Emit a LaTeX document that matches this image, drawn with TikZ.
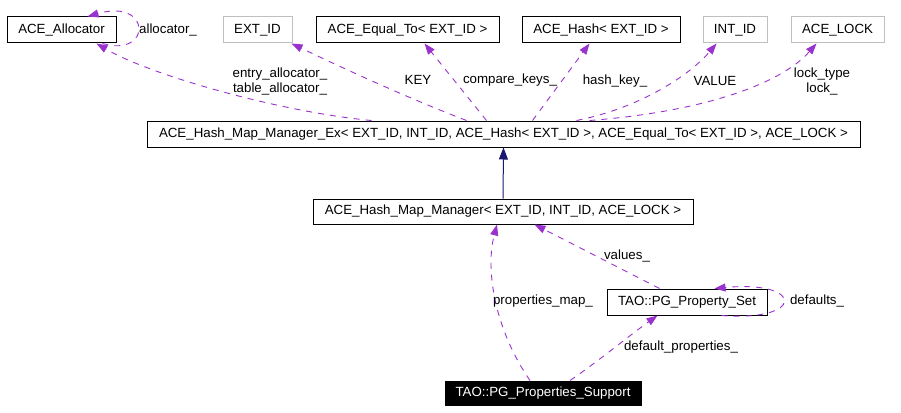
\documentclass[tikz,border=0pt]{standalone}
\usepackage{fontspec}
\setmainfont{Liberation Sans}
\usetikzlibrary{arrows.meta,calc}
\definecolor{edgepurple}{HTML}{9A32CD}
\definecolor{inhblue}{HTML}{191970}
\definecolor{graybox}{HTML}{BFBFBF}
\tikzset{
  cls/.style={draw=black, line width=1pt, minimum height=26pt, inner sep=0pt, font=\fontsize{13.3}{15}\selectfont},
  extcls/.style={cls, draw=graybox},
  focuscls/.style={cls, fill=black, text=white},
  rel/.style={draw=edgepurple, line width=0.9pt, dash pattern=on 6pt off 6pt, -{Triangle[length=11pt,width=8pt]}},
  inh/.style={draw=inhblue, line width=1pt, -{Triangle[length=12pt,width=9pt]}},
  lbl/.style={inner sep=0pt, font=\fontsize{13.3}{15}\selectfont, align=center}
}
\begin{document}
\begin{tikzpicture}[x=1pt,y=-1pt]
\useasboundingbox (0,0) rectangle (901,412);
% nodes
\node[cls, minimum width=109pt] (alloc) at (61.5,30) {ACE\_Allocator};
\node[extcls, minimum width=69pt] (extid) at (257.5,30) {EXT\_ID};
\node[cls, minimum width=183pt] (equal) at (407.5,30) {ACE\_Equal\_To< EXT\_ID >};
\node[cls, minimum width=158pt] (hash) at (601,30) {ACE\_Hash< EXT\_ID >};
\node[extcls, minimum width=64pt] (intid) at (735,30) {INT\_ID};
\node[extcls, minimum width=93pt] (lock) at (837.5,30) {ACE\_LOCK};
\node[cls, minimum width=713pt] (ex) at (503.5,134) {ACE\_Hash\_Map\_Manager\_Ex< EXT\_ID, INT\_ID, ACE\_Hash< EXT\_ID >, ACE\_Equal\_To< EXT\_ID >, ACE\_LOCK >};
\node[cls, minimum width=380pt, minimum height=25pt] (hmm) at (503,211.5) {ACE\_Hash\_Map\_Manager< EXT\_ID, INT\_ID, ACE\_LOCK >};
\node[cls, minimum width=160pt] (pset) at (687,302) {TAO::PG\_Property\_Set};
\node[focuscls, minimum width=196pt, minimum height=24pt] (support) at (543,393) {TAO::PG\_Properties\_Support};
% inheritance
\draw[inh] (hmm.north) -- (ex.south);
% relations
\draw[rel] ([xshift=225pt]ex.north west) .. controls (280,112) and (150,75) .. ([xshift=90pt]alloc.south west);
\draw[rel] ([xshift=96pt]alloc.south west) .. controls (152,58) and (152,-2) .. ([xshift=81pt]alloc.north west);
\draw[rel] ([xshift=320pt]ex.north west) .. controls (400,95) and (330,62) .. ([xshift=-1pt]extid.south east);
\draw[rel] ([xshift=340pt]ex.north west) -- ([xshift=109pt]equal.south west);
\draw[rel] ([xshift=386pt]ex.north west) -- ([xshift=68pt]hash.south west);
\draw[rel] ([xshift=430pt]ex.north west) .. controls (640,108) and (690,75) .. ([xshift=14pt]intid.south west);
\draw[rel] ([xshift=443pt]ex.north west) .. controls (700,112) and (780,85) .. ([xshift=26pt]lock.south west);
\draw[rel] ([xshift=-13pt]support.north) .. controls (495,330) and (485,270) .. ([xshift=-6pt]hmm.south);
\draw[rel] ([xshift=53pt]pset.north west) -- ([xshift=222pt]hmm.south west);
\draw[rel] ([xshift=27pt]support.north) .. controls (600,360) and (630,335) .. ([xshift=51pt]pset.south west);
\draw[rel] ([xshift=115pt]pset.south west) .. controls (805,322) and (805,280) .. ([xshift=108pt]pset.north west);
% labels
\node[lbl] (l1) at (168,30) {allocator\_};
\node[lbl] (l2) at (280,82) {entry\_allocator\_\\table\_allocator\_};
\node[lbl] (l3) at (418,80) {KEY};
\node[lbl] (l4) at (510,80) {compare\_keys\_};
\node[lbl] (l5) at (615,81) {hash\_key\_};
\node[lbl] (l6) at (715,81) {VALUE};
\node[lbl] (l7) at (822,82) {lock\_type\\lock\_};
\node[lbl] (l8) at (627,256) {values\_};
\node[lbl] (l9) at (543,301) {properties\_map\_};
\node[lbl] (l10) at (681,347) {default\_properties\_};
\node[lbl] (l11) at (817,301) {defaults\_};
\end{tikzpicture}
\end{document}
